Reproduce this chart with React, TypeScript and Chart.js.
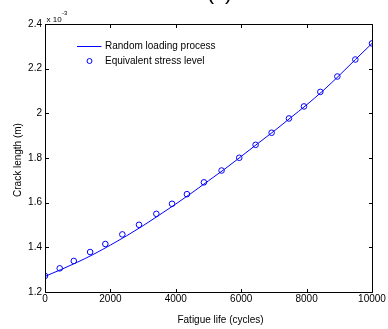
import React, { useEffect, useRef } from "react";
import { Chart, registerables } from "chart.js";

Chart.register(...registerables);

// Random loading process curve (crack length in units of 1e-3 m)
const lineCycles = [0, 500, 1000, 1500, 2000, 2500, 3000, 3500, 4000, 4500, 5000, 5500, 6000, 6500, 7000, 7500, 8000, 8500, 9000, 9500, 10000];
const lineCrack = [1.270, 1.301, 1.334, 1.370, 1.410, 1.452, 1.497, 1.545, 1.594, 1.645, 1.698, 1.751, 1.807, 1.864, 1.920, 1.979, 2.038, 2.101, 2.170, 2.242, 2.313];

// Equivalent stress level points
const pointCycles = [0, 450, 880, 1380, 1845, 2365, 2875, 3405, 3885, 4340, 4860, 5400, 5940, 6440, 6930, 7460, 7920, 8420, 8940, 9490, 10000];
const pointCrack = [1.272, 1.306, 1.339, 1.379, 1.415, 1.458, 1.501, 1.550, 1.595, 1.638, 1.691, 1.744, 1.801, 1.859, 1.913, 1.977, 2.031, 2.096, 2.165, 2.241, 2.313];

const xTicks = [0, 2000, 4000, 6000, 8000, 10000];
const yTicks = [1.2, 1.4, 1.6, 1.8, 2.0, 2.2, 2.4];

const seriesNames = ["Random loading process", "Equivalent stress level"];
const xTitle = "Fatigue life (cycles)";
const yTitle = "Crack length (m)";
const figTitle = "(c)";

const FONT = "Arial, 'Liberation Sans', sans-serif";
const BLUE = "#0000ff";

const framePlugin = {
  id: "frame",
  afterDraw(chart: any) {
    const ctx = chart.ctx as CanvasRenderingContext2D;
    const { left, right, top, bottom } = chart.chartArea;
    const xs = chart.scales.x;
    const ys = chart.scales.y;
    const L = Math.round(left) + 0.5;
    const R = Math.round(right) + 0.5;
    const T = Math.round(top) + 0.5;
    const B = Math.round(bottom) + 0.5;
    ctx.save();
    ctx.strokeStyle = "#000";
    ctx.lineWidth = 1;
    ctx.beginPath();
    ctx.rect(L, T, R - L, B - T);
    ctx.stroke();
    const tl = 3.5;
    ctx.beginPath();
    xTicks.forEach((v) => {
      const p = Math.round(xs.getPixelForValue(v)) + 0.5;
      ctx.moveTo(p, B);
      ctx.lineTo(p, B - tl);
      ctx.moveTo(p, T);
      ctx.lineTo(p, T + tl);
    });
    yTicks.forEach((v) => {
      const p = Math.round(ys.getPixelForValue(v)) + 0.5;
      ctx.moveTo(L, p);
      ctx.lineTo(L + tl, p);
      ctx.moveTo(R, p);
      ctx.lineTo(R - tl, p);
    });
    ctx.stroke();

    // exponent label
    ctx.fillStyle = "#000";
    ctx.textBaseline = "alphabetic";
    ctx.textAlign = "left";
    ctx.font = `8px ${FONT}`;
    ctx.fillText("x 10", 46.5, 21.5);
    ctx.font = `6px ${FONT}`;
    ctx.fillText("-3", 62, 15);

    // axis titles
    ctx.font = `10px ${FONT}`;
    ctx.textAlign = "center";
    ctx.textBaseline = "middle";
    ctx.fillText(xTitle, 220.5, 320.5);
    ctx.save();
    ctx.translate(18, 160);
    ctx.rotate(-Math.PI / 2);
    ctx.fillText(yTitle, 0, 0);
    ctx.restore();

    // figure title (cut off at top)
    ctx.font = `22px ${FONT}`;
    ctx.textBaseline = "alphabetic";
    ctx.fillText(figTitle, 219.5, -1.5);

    // legend
    ctx.font = `10px ${FONT}`;
    ctx.textAlign = "left";
    ctx.textBaseline = "middle";
    ctx.strokeStyle = BLUE;
    ctx.beginPath();
    ctx.moveTo(77, 46.5);
    ctx.lineTo(101.5, 46.5);
    ctx.stroke();
    ctx.beginPath();
    ctx.arc(89.5, 61, 2.5, 0, Math.PI * 2);
    ctx.stroke();
    ctx.fillStyle = "#000";
    ctx.fillText(seriesNames[0], 105, 46.5);
    ctx.fillText(seriesNames[1], 105, 61);
    ctx.restore();
  },
};

export default function App() {
  const ref = useRef<HTMLCanvasElement | null>(null);
  useEffect(() => {
    if (!ref.current) return;
    const chart = new Chart(ref.current, {
      type: "scatter",
      data: {
        datasets: [
          {
            type: "line",
            label: seriesNames[0],
            data: lineCycles.map((x, i) => ({ x, y: lineCrack[i] })),
            borderColor: BLUE,
            borderWidth: 1,
            pointRadius: 0,
            showLine: true,
            fill: false,
            cubicInterpolationMode: "monotone",
          } as any,
          {
            label: seriesNames[1],
            data: pointCycles.map((x, i) => ({ x, y: pointCrack[i] })),
            borderColor: BLUE,
            backgroundColor: "rgba(0,0,0,0)",
            borderWidth: 1,
            pointRadius: 2.8,
            pointStyle: "circle",
            showLine: false,
          },
        ],
      },
      options: {
        animation: false,
        responsive: false,
        layout: { padding: { top: 24, right: 16, left: 0, bottom: 0 } },
        plugins: { legend: { display: false }, tooltip: { enabled: false }, title: { display: false } },
        scales: {
          x: {
            type: "linear",
            min: 0,
            max: 10000,
            grid: { display: false, drawTicks: false },
            border: { display: false },
            afterBuildTicks: (s: any) => {
              s.ticks = xTicks.map((v) => ({ value: v }));
            },
            afterFit: (s: any) => {
              s.height = 37;
            },
            ticks: {
              font: { family: FONT, size: 10 },
              color: "#000",
              padding: 1,
              maxRotation: 0,
              autoSkip: false,
              callback: (v: any) => String(v),
            },
          },
          y: {
            type: "linear",
            min: 1.2,
            max: 2.4,
            grid: { display: false, drawTicks: false },
            border: { display: false },
            afterBuildTicks: (s: any) => {
              s.ticks = yTicks.map((v) => ({ value: v }));
            },
            afterFit: (s: any) => {
              s.width = 45;
            },
            ticks: {
              font: { family: FONT, size: 10 },
              color: "#000",
              padding: 3,
              autoSkip: false,
              callback: (v: any) => String(Number(Number(v).toFixed(1))),
            },
          },
        },
      },
      plugins: [framePlugin],
    });
    return () => chart.destroy();
  }, []);
  return (
    <div style={{ position: "absolute", left: 0, top: 0, width: 388, height: 329, background: "#fff" }}>
      <canvas ref={ref} width={388} height={329} style={{ display: "block" }} />
    </div>
  );
}
